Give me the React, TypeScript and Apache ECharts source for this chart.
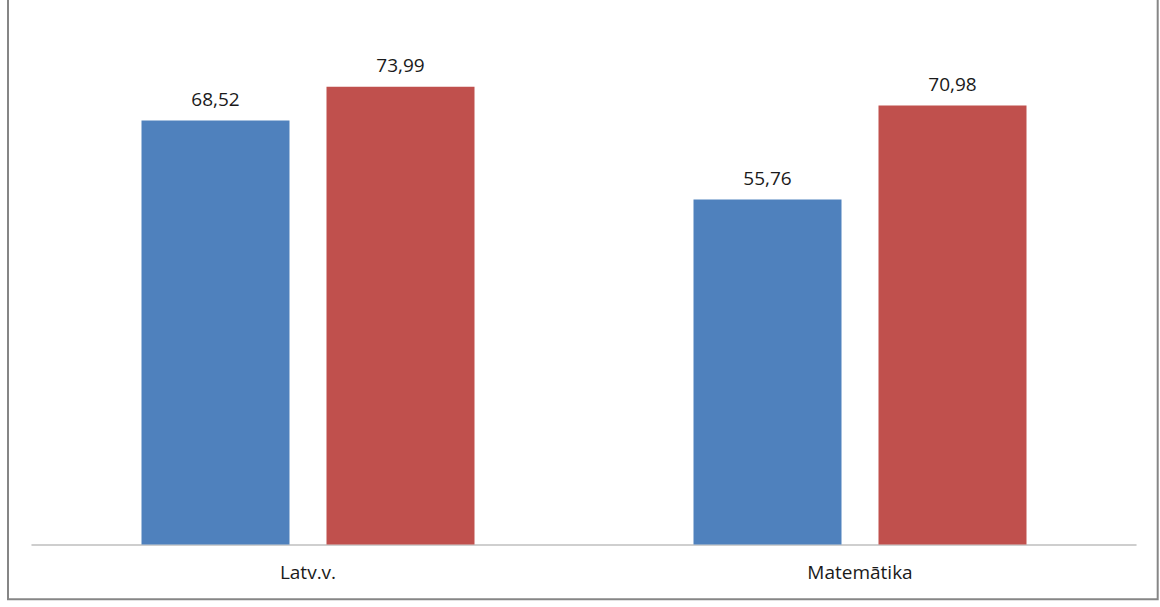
import React, { useEffect, useRef } from "react";
import * as echarts from "echarts";

const categories = ["Latv.v.", "Matemātika"];
const seriesA = [68.52, 55.76];
const seriesB = [73.99, 70.98];
const seriesNames = ["A", "B"];
const colors = ["#4F81BD", "#C0504D"];

const fmt = (v: number) => v.toFixed(2).replace(".", ",");

export default function App() {
  const ref = useRef<HTMLDivElement>(null);
  useEffect(() => {
    if (!ref.current) return;
    const chart = echarts.init(ref.current, null, { renderer: "svg" });
    const font = "'Open Sans', sans-serif";
    const mkSeries = (name: string, data: number[], color: string) => ({
      name,
      type: "bar",
      data,
      barWidth: 148,
      barGap: "25%",
      itemStyle: { color },
      label: {
        show: true,
        position: "top",
        distance: 12,
        color: "#1a1a1a",
        fontSize: 19,
        fontFamily: font,
        formatter: (p: any) => fmt(p.value),
      },
    });
    chart.setOption({
      animation: false,
      backgroundColor: "#ffffff",
      grid: { left: 32, right: 24, top: 49.6, bottom: 62.5, containLabel: false },
      xAxis: {
        type: "category",
        data: categories,
        axisLine: { show: true, lineStyle: { color: "#BFBFBF", width: 1.5 } },
        axisTick: { show: false },
        axisLabel: { color: "#1a1a1a", fontSize: 19, fontFamily: font, margin: 18 },
      },
      yAxis: {
        type: "value",
        min: 0,
        max: 80,
        show: false,
        splitLine: { show: false },
      },
      series: [
        mkSeries(seriesNames[0], seriesA, colors[0]),
        mkSeries(seriesNames[1], seriesB, colors[1]),
      ],
      graphic: [
        {
          type: "rect",
          shape: { x: 8, y: -5, width: 1149.7, height: 604.3 },
          style: { fill: "none", stroke: "#868686", lineWidth: 2 },
          silent: true,
        },
      ],
    });
    return () => chart.dispose();
  }, []);
  return (
    <div
      ref={ref}
      style={{ position: "fixed", left: 0, top: 0, width: 1160, height: 607 }}
    />
  );
}
